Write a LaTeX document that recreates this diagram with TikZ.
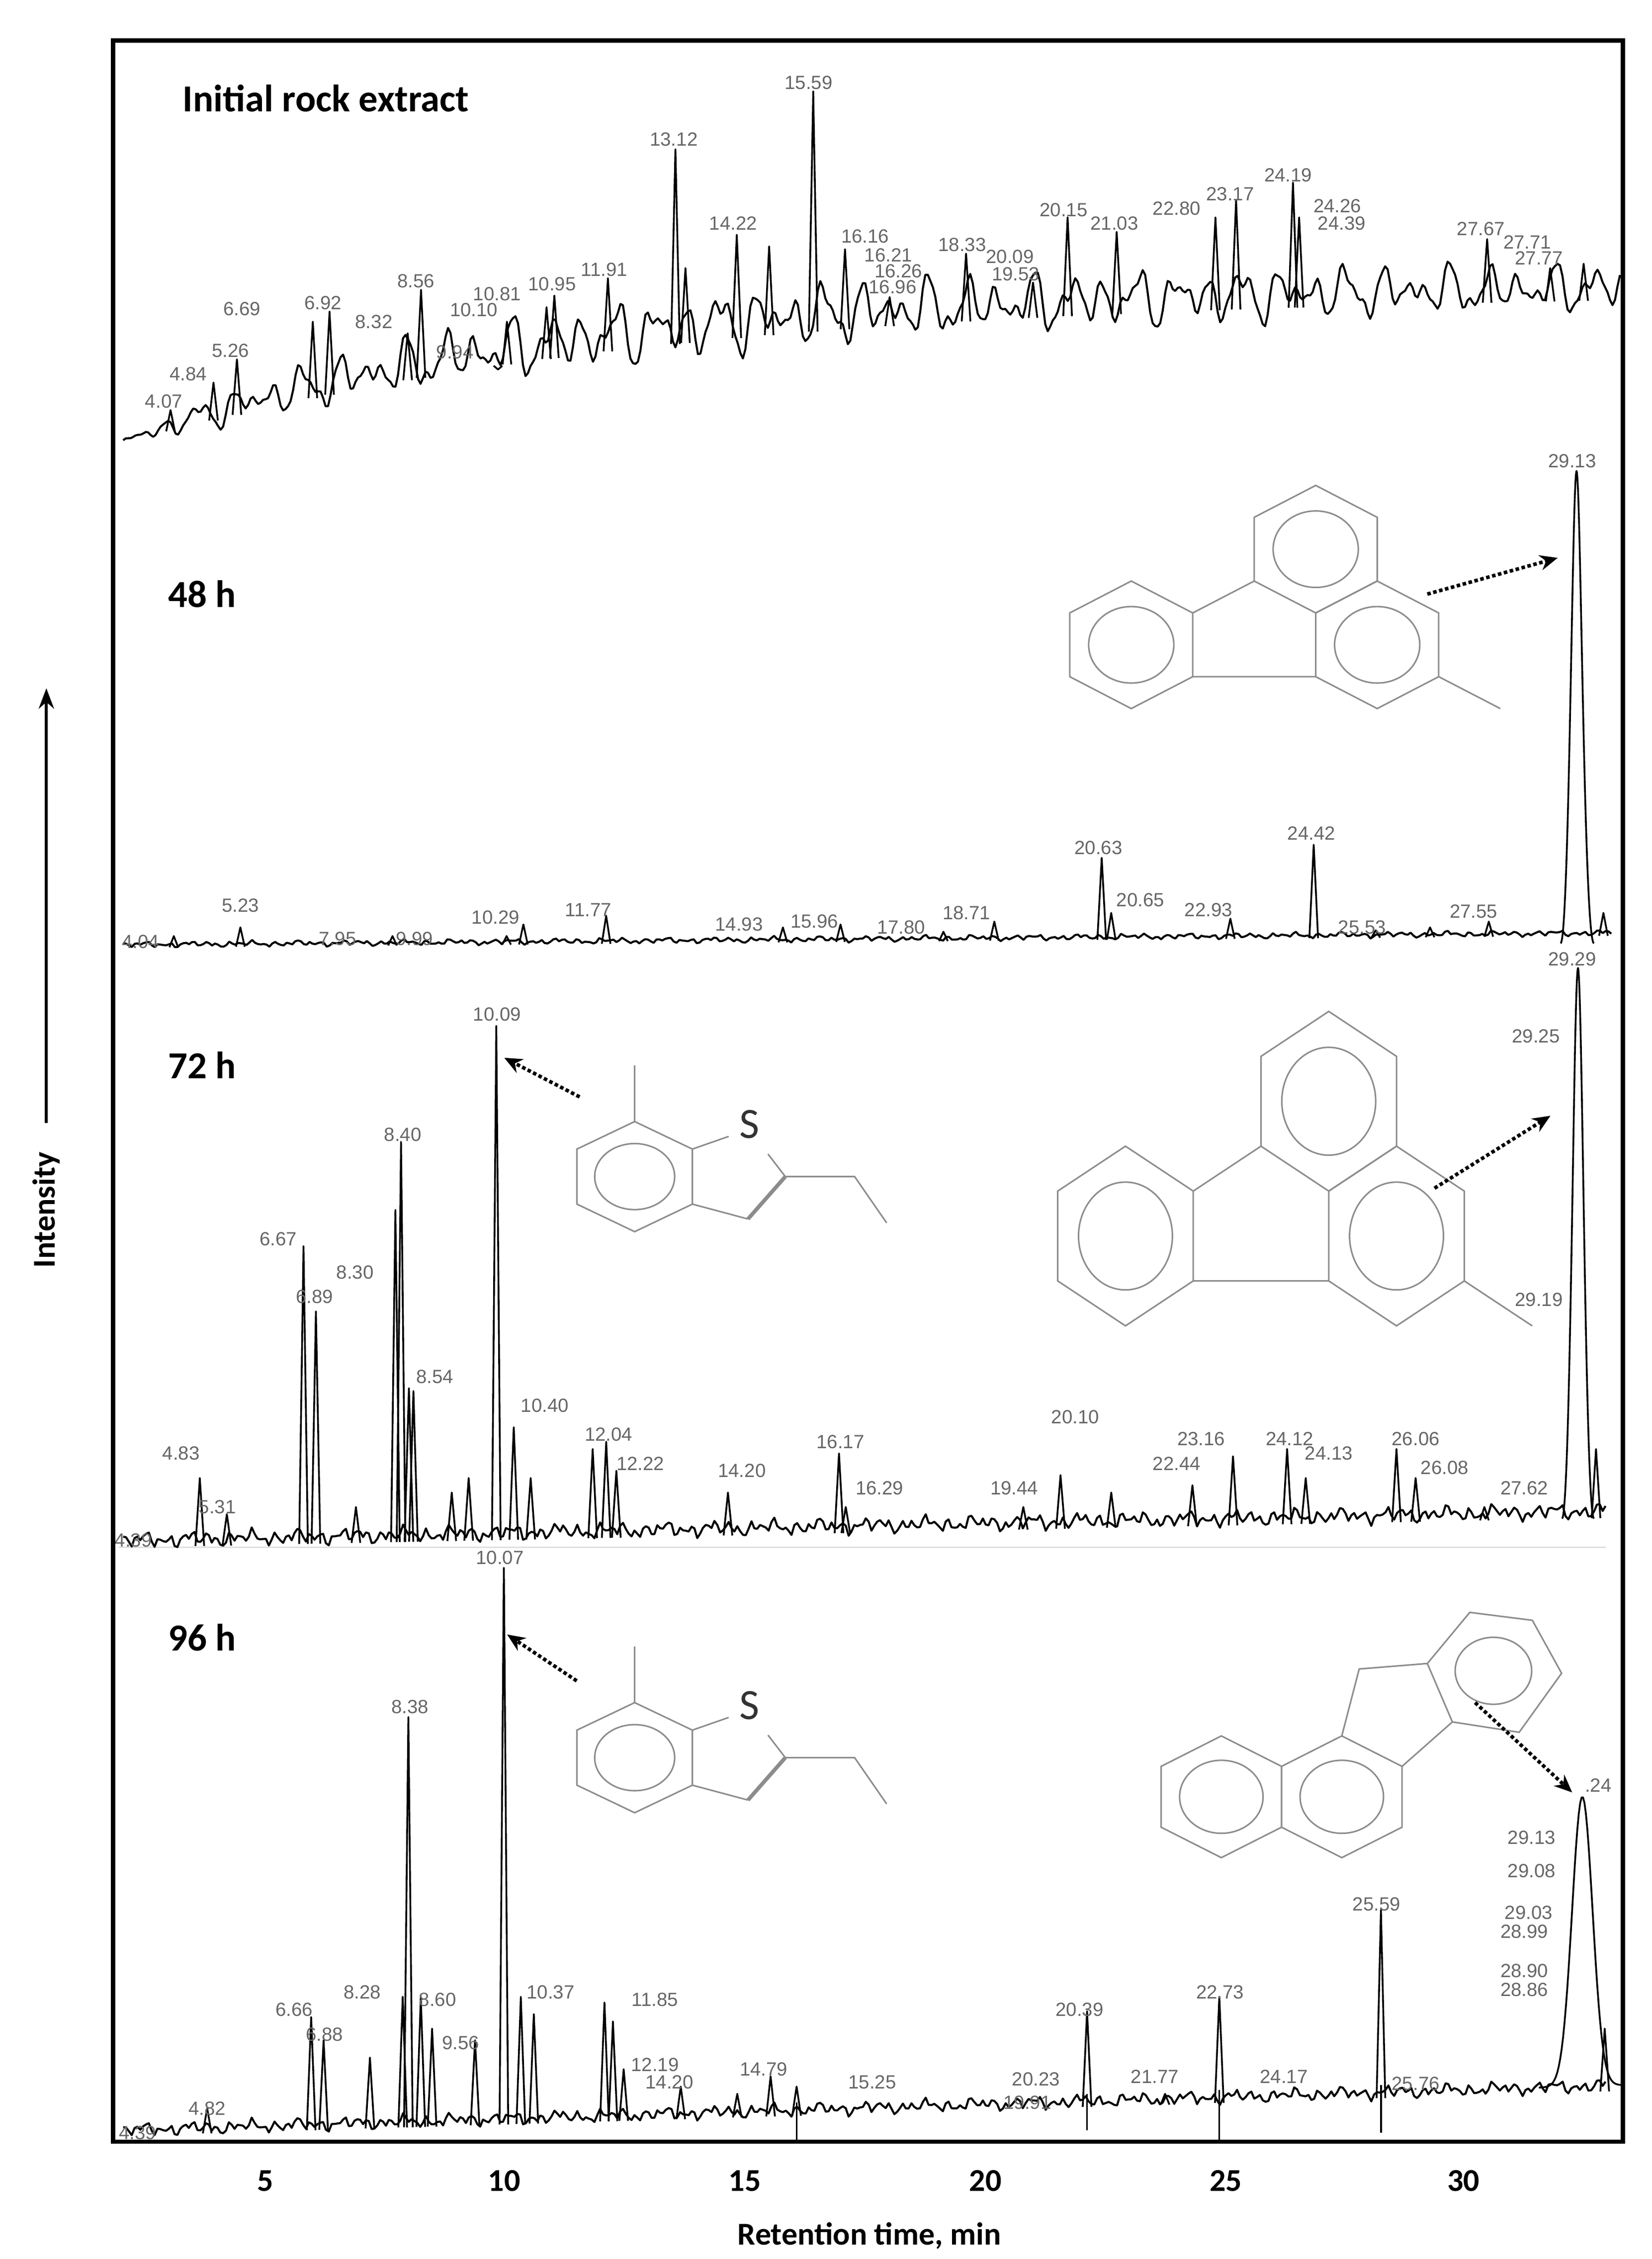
\documentclass[tikz,border=0pt]{standalone}
\usepackage{fontspec}
\newfontfamily\lblfont{Liberation Sans}
\newfontfamily\ttlfont{Carlito}
\usetikzlibrary{arrows.meta,calc}
\newcommand\myhex[4]{\draw[mol,shift={(#1,#2)}] (#3:1)--(#3+60:1)--(#3+120:1)--(#3+180:1)--(#3+240:1)--(#3+300:1)--cycle (0,0) circle (#4);}
\newcommand\fluoranthene{%
  \myhex{0}{0}{30}{0.6}\myhex{0.866}{-1.5}{30}{0.6}\myhex{-2.598}{-1.5}{30}{0.6}%
  \draw[mol] (-1.732,-1)--(-0.866,-0.5) (-1.732,-2)--(0,-2) (1.732,-2)--(2.6,-2.5);}
\newcommand\benzothio[1]{%
  \myhex{0}{0}{30}{0.6}%
  \draw[mol] (0.866,0.5)--(1.41,0.73) (2.26,0)--(2.0,0.41) (0.866,-0.5)--(1.70,-0.77)
     (2.26,0)--(3.30,0)--(3.78,-0.84) (0,1)--(0,2.02);
  \draw[mol,line width=1.5pt] (1.70,-0.77)--(2.26,0);
  \node[font=\ttlfont\fontsize{17}{17}\selectfont,text=black!80,inner sep=0pt] (#1) at (1.72,0.95) {S};}
\begin{document}
\begin{tikzpicture}[x=0.02cm,y=-0.02cm,
  declare function={
    nz(\x)=0.45*sin(45*mod(\x,8))+0.35*sin(24*mod(\x,15)+30)+0.2*sin(72*mod(\x,5)+11)+0.3*sin(10*mod(\x,36)+5);
    nzA(\x)=0.5*sin(15*mod(\x,24))+0.35*sin(24*mod(\x,15)+30)+0.3*sin(10*mod(\x,36)+5)+0.15*sin(45*mod(\x,8)+11);
    bA(\x)=305-110*(1-exp(-(\x-85)/300));
    aA(\x)=3+26*(1-exp(-(\x-85)/150))*(1-0.45*(\x-85)/1030);
    bB(\x)=652-0.008*(\x-85);
    bC(\x)=1063-0.02*(\x-85);
    bD(\x)=1470-0.03*(\x-85);
  },
  trace/.style={black,line width=0.8pt,line join=round},
  pk/.style={black,line width=0.7pt,line join=round},
  pl/.style={font=\lblfont\fontsize{7.5}{8}\selectfont,text=black!60,inner sep=0.3pt},
  pg/.style={pl,append after command={[draw=green!45!gray,line width=0.5pt] (\tikzlastnode.south west)--++(34,0)}},
  ttl/.style={font=\ttlfont\bfseries\fontsize{15}{18}\selectfont,anchor=west},
  ax/.style={font=\ttlfont\bfseries\fontsize{12.5}{15}\selectfont},
  mol/.style={draw=black!45,line width=0.6pt},
  dotarrow/.style={densely dotted,line width=1.4pt,-{Stealth[length=7pt,width=6pt]}}
]
\useasboundingbox (0,0) rectangle (1140,1559);
\draw[black!12,line width=0.6pt] (82,1068)--(1108,1068);
% ---------------- Panel 1
\node[ttl] (t1) at (120,68) {Initial rock extract};
\draw[trace] plot[domain=85:1118,samples=600,variable=\x] ({\x},{bA(\x)+aA(\x)*nzA(\x)});
\foreach \t/\h in {4.07/283,4.84/264,5.26/248,6.62/222,6.92/215,8.32/230,8.56/200,9.94/255,10.10/222,10.81/212,10.95/204,11.91/192,13.12/103,13.30/185,14.22/162,14.80/170,15.59/63,16.16/172,16.96/205,18.33/175,19.53/195,20.15/150,21.03/160,22.80/150,23.17/138,24.19/126,24.30/150,27.67/165,28.8/185,29.4/182}{
  \pgfmathsetmacro\xx{-39+38.5*\t}\pgfmathsetmacro\bb{bA(\xx)+0.5*aA(\xx)}
  \draw[pk] (\xx-3,\bb)--(\xx,\h)--(\xx+3,\bb);}
\foreach \s/\x/\y [count=\i] in {4.07/113/277,4.84/130/258,5.26/159/242,8.56/287/194,10.95/381/196,11.91/417/186,13.12/465/96,14.22/506/154,15.59/558/57,16.16/597/163,18.33/664/169,20.15/734/145,21.03/769/154,22.80/812/144,23.17/849/134,24.19/889/121,27.67/1022/158}
  \node[pl] (a\i) at (\x,\y) {\s};
\foreach \s/\x/\y [count=\i] in {6.69/167/213,6.92/223/209,8.32/258/222,9.94/314/243,10.10/327/214,10.81/343/203,16.21/613/176,16.26/620/187,16.96/616/198,20.09/697/177,19.53/701/189,24.26/923/142,24.39/926/154,27.71/1054/167,27.77/1062/178}
  \node[pg] (ag\i) at (\x,\y) {\s};
% ---------------- Panel 2
\node[ttl] (t2) at (110,410) {48 h};
\draw[trace] plot[domain=85:1112,samples=520,variable=\x] ({\x},{bB(\x)+2.2*nz(\x)});
\foreach \t/\h in {4.04/646,5.23/640,7.95/646,9.99/646,10.29/638,11.77/632,14.93/640,15.96/638,17.80/643,18.71/636,20.63/592,20.8/630,22.93/634,24.42/583,25.53/642,26.5/640,27.55/636,29.6/630}{
  \pgfmathsetmacro\xx{-36+38.6*\t}\pgfmathsetmacro\bb{bB(\xx)+2}
  \draw[pk] (\xx-3,\bb)--(\xx,\h)--(\xx+3,\bb);}
\draw[pk] (1077,651) .. controls (1083,650) and (1085,330) .. (1088,325) .. controls (1091,330) and (1093,650) .. (1100,651);
\foreach \s/\x/\y [count=\i] in {4.04/97/650,5.23/166/625,11.77/406/628,14.93/510/638,15.96/562/636,18.71/667/630,20.63/758/585,22.93/834/628,24.42/905/575,27.55/1017/629,29.13/1085/318}
  \node[pl] (b\i) at (\x,\y) {\s};
\foreach \s/\x/\y [count=\i] in {7.95/233/648,9.99/286/648,10.29/342/633,17.80/622/640,20.65/787/621,25.53/940/640}
  \node[pg] (bg\i) at (\x,\y) {\s};
\begin{scope}[shift={(908,379)},xscale=49,yscale=-44]
  \fluoranthene
\end{scope}
\coordinate (s2) at (985,410); \coordinate (e2) at (1075,385);
\draw[dotarrow] (s2)--(e2);
% ---------------- Panel 3
\node[ttl] (t3) at (110,735) {72 h};
\draw[trace] plot[domain=85:1108,samples=520,variable=\x] ({\x},{bC(\x)+6*nz(\x)});
\foreach \t/\h in {4.83/1020,5.31/1045,6.67/860,6.89/905,7.6/1040,8.30/835,8.40/788,8.54/958,8.62/960,9.3/1030,9.6/1020,10.09/708,10.40/985,10.7/1020,11.8/1000,12.04/995,12.22/1015,14.20/1030,16.17/1003,16.29/1040,19.44/1040,20.10/1018,21.0/1030,22.44/1025,23.16/1005,24.12/1000,24.45/1020,26.06/1000,26.4/1020,27.62/1040,29.6/1000}{
  \pgfmathsetmacro\xx{-50+38.9*\t}\pgfmathsetmacro\bb{bC(\xx)+5}
  \draw[pk] (\xx-3,\bb)--(\xx,\h)--(\xx+3,\bb);}
\draw[pk] (1078,1048) .. controls (1084,1046) and (1086,672) .. (1089,668) .. controls (1092,672) and (1094,1046) .. (1100,1048);
\foreach \s/\x/\y [count=\i] in {4.39/92/1063,4.83/125/1003,5.31/150/1040,6.67/192/855,6.89/217/895,8.40/278/783,8.54/300/950,10.09/343/700,10.40/376/970,12.04/420/990,14.20/512/1015,16.17/580/995,20.10/742/978,24.12/890/993,26.06/977/993,29.29/1085/662}
  \node[pl] (c\i) at (\x,\y) {\s};
\foreach \s/\x/\y [count=\i] in {8.30/245/878,12.22/442/1010,16.29/607/1027,19.44/700/1027,22.44/812/1010,23.16/829/993,24.13/917/1003,26.08/997/1013,27.62/1052/1027,29.25/1060/715,29.19/1062/897}
  \node[pg] (cg\i) at (\x,\y) {\s};
\begin{scope}[shift={(438,812)},xscale=46,yscale=-38]
  \benzothio{S3}
\end{scope}
\begin{scope}[shift={(917,760)},xscale=54,yscale=-62]
  \fluoranthene
\end{scope}
\coordinate (s3a) at (400,757); \coordinate (e3a) at (348,730);
\draw[dotarrow] (s3a)--(e3a);
\coordinate (s3b) at (990,820); \coordinate (e3b) at (1070,770);
\draw[dotarrow] (s3b)--(e3b);
% ---------------- Panel 4
\node[ttl] (t4) at (110,1130) {96 h};
\draw[trace] plot[domain=85:1108,samples=520,variable=\x] ({\x},{bD(\x)+5*nz(\x)});
\foreach \t/\h in {4.82/1455,6.66/1392,6.88/1408,7.7/1420,8.28/1378,8.38/1185,8.60/1378,8.8/1400,9.56/1408,10.07/1082,10.37/1378,10.6/1390,11.85/1382,12.0/1395,12.19/1428,13.2/1440,14.20/1445,14.79/1433,15.25/1440,20.39/1388,21.77/1445,22.73/1378,25.59/1318,29.55/1400}{
  \pgfmathsetmacro\xx{-45+39*\t}\pgfmathsetmacro\bb{bD(\xx)+4}
  \draw[pk] (\xx-3,\bb)--(\xx,\h)--(\xx+3,\bb);}
\foreach \t/\h in {15.25/1478,20.39/1470,22.73/1478,25.59/1472}{
  \pgfmathsetmacro\xx{-45+39*\t}\draw[pk] (\xx,{bD(\xx)-5})--(\xx,\h);}
\draw[pk] plot[domain=1062:1120,samples=60,variable=\x] ({\x},{bD(\x)-(bD(\x)-1240)*exp(-((\x-1092)/10)^2)});
\foreach \s/\x/\y [count=\i] in {4.39/95/1472,4.82/143/1455,8.38/283/1178,10.07/345/1075,20.39/745/1387,21.77/797/1433,22.73/842/1375,24.17/886/1433,25.59/950/1314,.24/1103/1232}
  \node[pl] (d\i) at (\x,\y) {\s};
\foreach \s/\x/\y [count=\i] in {6.66/203/1387,6.88/224/1404,8.28/250/1375,8.60/302/1380,9.56/318/1410,10.37/380/1375,11.85/452/1380,12.19/452/1425,14.20/462/1437,14.79/527/1428,15.25/602/1437,19.91/709/1451,20.23/715/1435,25.76/977/1438,29.13/1057/1268,29.08/1057/1291,29.03/1055/1320,28.99/1052/1333,28.90/1052/1360,28.86/1052/1373}
  \node[pg] (dg\i) at (\x,\y) {\s};
\begin{scope}[shift={(438,1213)},xscale=46,yscale=-38]
  \benzothio{S4}
\end{scope}
\begin{scope}[shift={(926,1240)},xscale=48,yscale=-42]
  \myhex{0}{0}{30}{0.6}
  \myhex{-1.732}{0}{30}{0.6}
  \draw[mol] (0,1)--(0.25,2.1)--(1.23,2.19)--(1.84,3.03)--(2.74,2.9)--(3.16,2.03)--(2.55,1.06)--(1.59,1.23)--(0.866,0.5) (1.23,2.19)--(1.59,1.23) (2.18,2.07) circle (0.55);
\end{scope}
\coordinate (s4a) at (398,1160); \coordinate (e4a) at (350,1128);
\draw[dotarrow] (s4a)--(e4a);
\coordinate (s4b) at (1018,1175); \coordinate (e4b) at (1085,1237);
\draw[dotarrow] (s4b)--(e4b);
% ---------------- frame and axes
\draw[black,line width=1.7pt] (78,28) rectangle (1120,1478);
\foreach \v/\x [count=\i] in {5/183,10/348,15/514,20/680,25/846,30/1010}
  \node[ax] (tk\i) at (\x,1505) {\v};
\node[ax] (xl) at (600,1543) {Retention time, min};
\node[ax,rotate=90] (yl) at (32,835) {Intensity};
\coordinate (ya) at (32,775); \coordinate (yb) at (32,475);
\draw[line width=1.2pt,-{Stealth[length=8pt,width=6pt]}] (ya)--(yb);
\end{tikzpicture}
\end{document}
